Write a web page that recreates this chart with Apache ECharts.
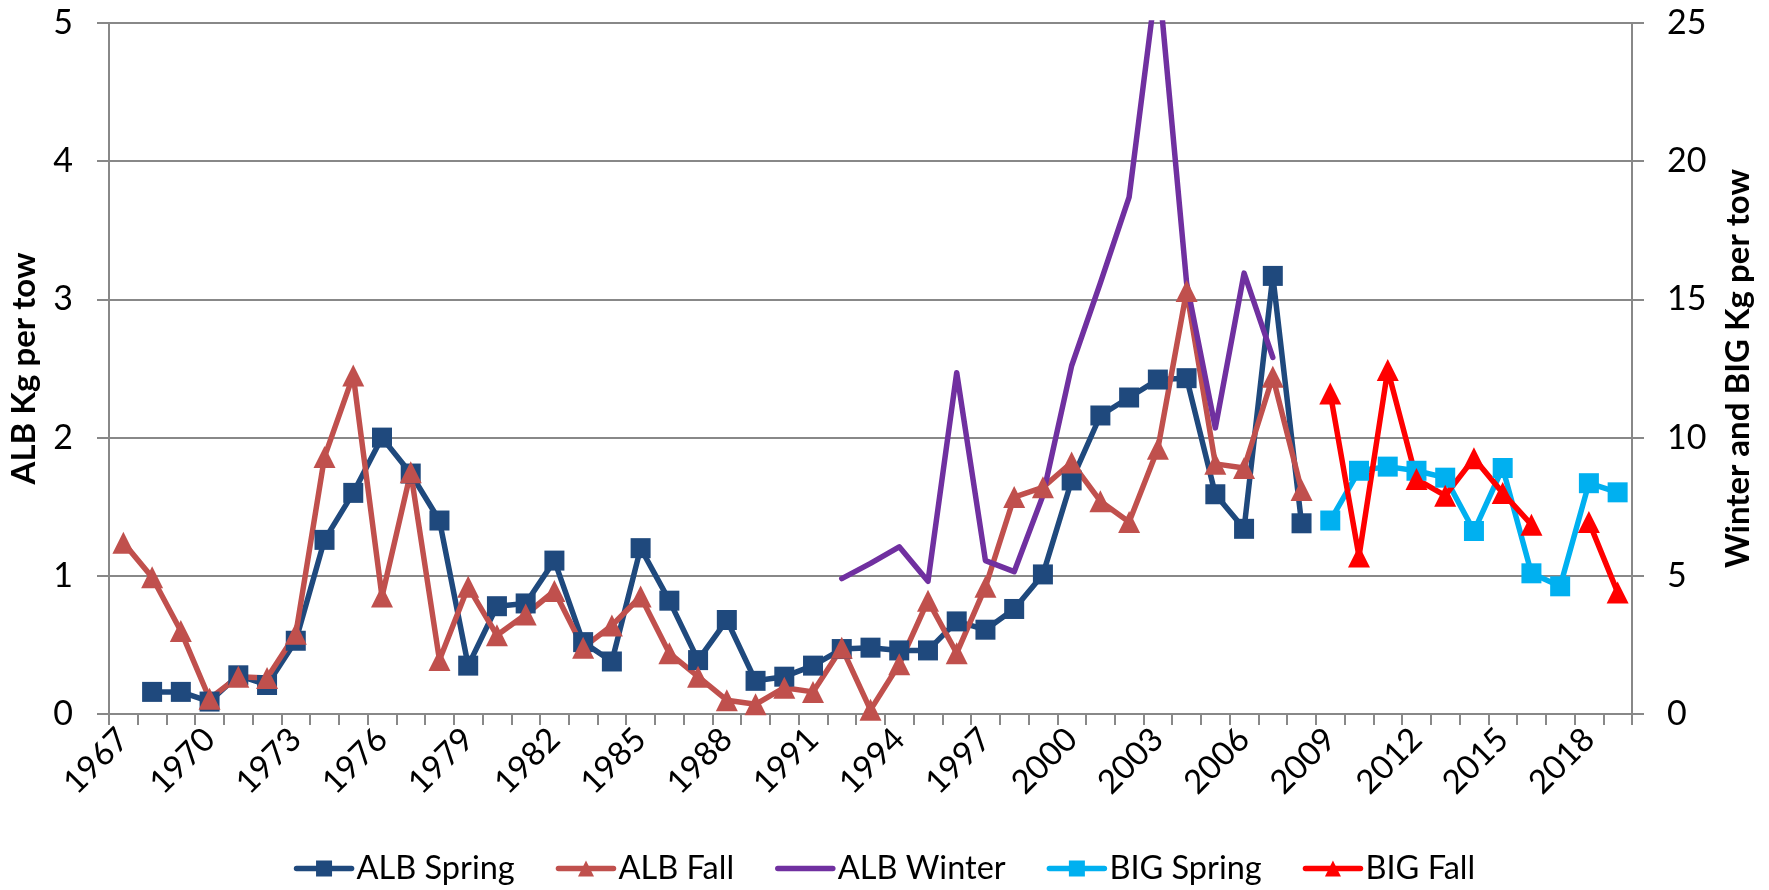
<!DOCTYPE html>
<html>
<head>
<meta charset="utf-8">
<script src="https://cdn.jsdelivr.net/npm/echarts@6/dist/echarts.min.js"></script>
<style>
html,body{margin:0;padding:0;background:#fff;}
#chart{width:1769px;height:890px;}
</style>
</head>
<body>
<div id="chart"></div>
<script>
const years = [];
for (let y = 1967; y <= 2019; y++) years.push(String(y));

// ALB Spring (left axis), 1967..2019
const albSpring = [null,0.16,0.16,0.09,0.28,0.21,0.53,1.26,1.60,2.00,1.74,1.40,0.35,0.78,0.80,1.11,0.52,0.38,1.20,0.82,0.39,0.68,0.24,0.27,0.35,0.47,0.48,0.46,0.46,0.67,0.61,0.76,1.01,1.69,2.16,2.29,2.42,2.43,1.59,1.34,3.17,1.38,
  null,null,null,null,null,null,null,null,null,null,null];
// ALB Fall (left axis)
const albFall = [1.24,0.99,0.60,0.11,0.27,0.26,0.58,1.86,2.45,0.85,1.75,0.39,0.92,0.57,0.72,0.89,0.48,0.64,0.85,0.44,0.27,0.10,0.07,0.19,0.16,0.48,0.03,0.36,0.82,0.44,0.92,1.57,1.64,1.82,1.54,1.39,1.92,3.06,1.81,1.78,2.44,1.62,
  null,null,null,null,null,null,null,null,null,null,null];
// ALB Winter (right axis)
const albWinter = [null,null,null,null,null,null,null,null,null,null,null,null,null,null,null,null,null,null,null,null,null,null,null,null,null,
  4.9,5.45,6.05,4.8,12.35,5.55,5.15,7.9,12.6,15.6,18.7,26.9,15.6,10.35,15.95,12.9,
  null,null,null,null,null,null,null,null,null,null,null,null];
// BIG Spring (right axis)
const bigSpring = [null,null,null,null,null,null,null,null,null,null,null,null,null,null,null,null,null,null,null,null,null,null,null,null,null,null,null,null,null,null,null,null,null,null,null,null,null,null,null,null,null,null,
  7.0,8.8,8.95,8.8,8.55,6.62,8.9,5.09,4.62,8.35,8.02];
// BIG Fall (right axis)
const bigFall = [null,null,null,null,null,null,null,null,null,null,null,null,null,null,null,null,null,null,null,null,null,null,null,null,null,null,null,null,null,null,null,null,null,null,null,null,null,null,null,null,null,null,
  11.6,5.7,12.45,8.5,7.9,9.25,8.0,6.85,null,6.95,4.4];

const leftTicks = [0,1,2,3,4,5];
const rightTicks = [0,5,10,15,20,25];

const FONT = 'Lato';
const gridColor = '#888888';

const chart = echarts.init(document.getElementById('chart'));

function mk(name, data, color, symbol, yIdx, size) {
  return {
    name: name, type: 'line', data: data, yAxisIndex: yIdx,
    symbol: symbol, symbolSize: size, showSymbol: symbol !== 'none', showAllSymbol: true,
    lineStyle: {color: color, width: 5.5, cap: 'round', join: 'round'},
    itemStyle: {color: color},
    connectNulls: false, clip: true, animation: false
  };
}

chart.setOption({
  animation: false,
  grid: {left: 109, right: 137, top: 23, bottom: 176},
  legend: {
    bottom: 0, left: 'center',
    itemWidth: 55, itemHeight: 20, itemGap: 41,
    lineStyle: {width: 5.5, cap: 'round'},
    textStyle: {fontFamily: FONT, fontSize: 32.5, color: '#000'},
    data: ['ALB Spring','ALB Fall',{name:'ALB Winter', itemStyle:{opacity:0}},'BIG Spring','BIG Fall']
  },
  xAxis: {
    type: 'category', data: years, boundaryGap: true,
    axisLine: {lineStyle: {color: gridColor, width: 2}},
    axisTick: {show: true, interval: 0, length: 11, lineStyle: {color: gridColor, width: 2}},
    axisLabel: {interval: 2, rotate: 45, fontFamily: FONT, fontSize: 33, color: '#000', margin: 20}
  },
  yAxis: [
    {
      type: 'value', min: leftTicks[0], max: leftTicks[leftTicks.length-1], interval: 1,
      name: 'ALB Kg per tow', nameLocation: 'middle', nameGap: 68, nameRotate: 90,
      nameTextStyle: {fontFamily: FONT, fontSize: 33, fontWeight: 'bold', color: '#000'},
      axisLine: {show: true, lineStyle: {color: gridColor, width: 2}},
      axisTick: {show: true, length: 12, lineStyle: {color: gridColor, width: 2}},
      axisLabel: {fontFamily: FONT, fontSize: 34, color: '#000', margin: 36},
      splitLine: {show: true, lineStyle: {color: gridColor, width: 2}}
    },
    {
      type: 'value', min: rightTicks[0], max: rightTicks[rightTicks.length-1], interval: 5,
      position: 'right',
      name: 'Winter and BIG Kg per tow', nameLocation: 'middle', nameGap: 90, nameRotate: 90,
      nameTextStyle: {fontFamily: FONT, fontSize: 33, fontWeight: 'bold', color: '#000'},
      axisLine: {show: true, lineStyle: {color: gridColor, width: 2}},
      axisTick: {show: true, length: 12, lineStyle: {color: gridColor, width: 2}},
      axisLabel: {fontFamily: FONT, fontSize: 34, color: '#000', margin: 35},
      splitLine: {show: false}
    }
  ],
  series: [
    mk('ALB Spring', albSpring, '#1F497D', 'rect', 0, 20),
    mk('ALB Fall', albFall, '#C0504D', 'triangle', 0, 22),
    mk('ALB Winter', albWinter, '#7030A0', 'none', 1, 0),
    mk('BIG Spring', bigSpring, '#00B0F0', 'rect', 1, 20),
    mk('BIG Fall', bigFall, '#FF0000', 'triangle', 1, 22)
  ]
});
</script>
</body>
</html>
